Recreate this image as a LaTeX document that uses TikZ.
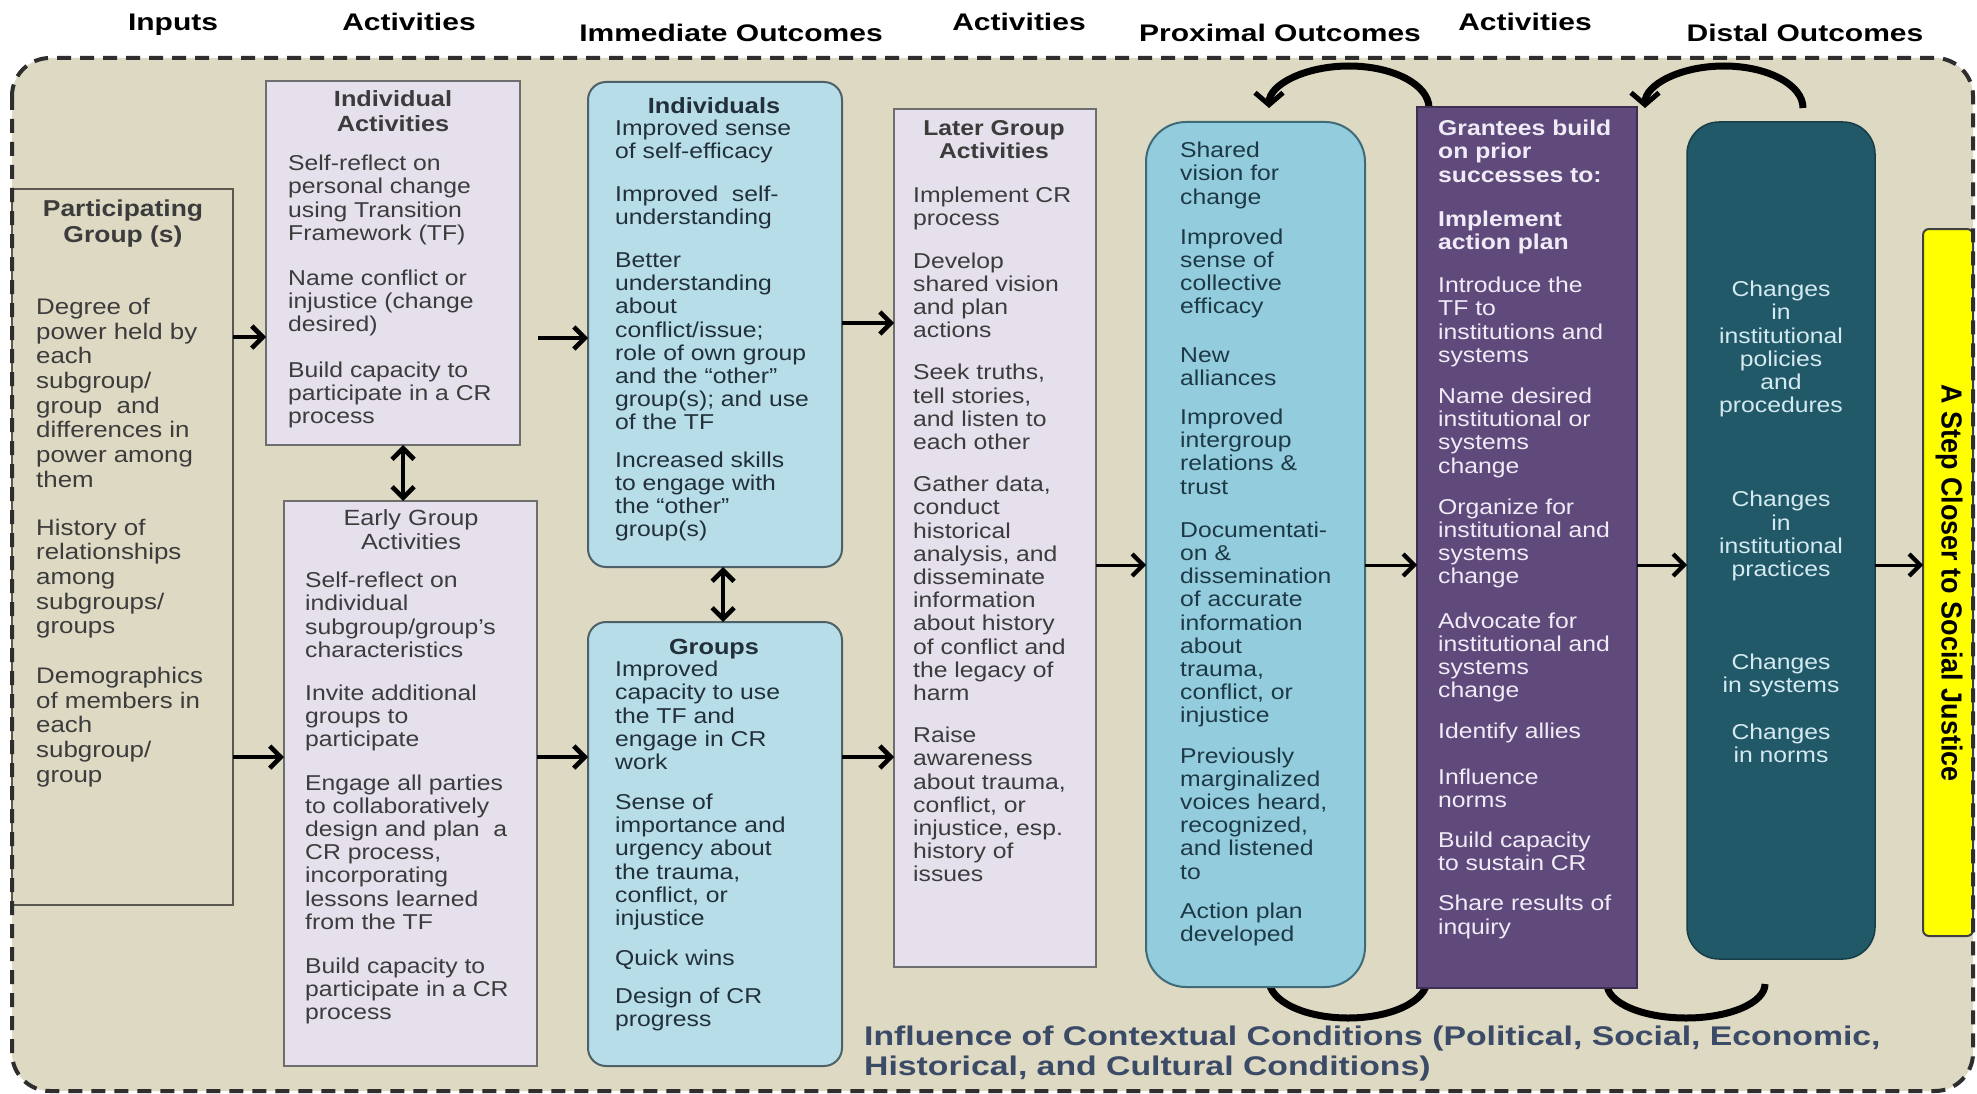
\documentclass[tikz,border=0pt]{standalone}
\usepackage{fontspec}
\setmainfont{Liberation Sans}
\newfontfamily\bodyfont[FakeStretch=1.15]{Liberation Sans}
\newfontfamily\headfont[FakeStretch=1.25]{Liberation Sans}
\newfontfamily\footfont[FakeStretch=1.25]{Liberation Sans}
\newfontfamily\yelfont[FakeStretch=0.93]{Liberation Sans}
\usetikzlibrary{arrows.meta}
\definecolor{bgtan}{HTML}{DDD9C3}
\definecolor{lavfill}{HTML}{E5E0EC}
\definecolor{lavdraw}{HTML}{6E6E6E}
\definecolor{partdraw}{HTML}{59594F}
\definecolor{indfill}{HTML}{B7DDE8}
\definecolor{inddraw}{HTML}{4F6168}
\definecolor{proxfill}{HTML}{93CDDD}
\definecolor{proxdraw}{HTML}{3F6B78}
\definecolor{purfill}{HTML}{604A7B}
\definecolor{purdraw}{HTML}{3E2F52}
\definecolor{disfill}{HTML}{215968}
\definecolor{disdraw}{HTML}{173E48}
\definecolor{yelfill}{HTML}{FFFF00}
\definecolor{yeldraw}{HTML}{404040}
\definecolor{txtgray}{HTML}{3C3C3C}
\definecolor{txtblue}{HTML}{22303A}
\definecolor{txtprox}{HTML}{1E3946}
\definecolor{purtext}{HTML}{F0ECF7}
\definecolor{distext}{HTML}{D5EAF0}
\definecolor{foottext}{HTML}{3B4A66}
\definecolor{framecol}{HTML}{2E2E2E}
\tikzset{
  boxbase/.style={anchor=north west, inner sep=0pt, outer sep=0pt},
  partbox/.style={boxbase, fill=bgtan, draw=partdraw, line width=2pt},
  lavbox/.style={boxbase, fill=lavfill, draw=lavdraw, line width=2pt},
  indbox/.style={boxbase, fill=indfill, draw=inddraw, line width=2pt, rounded corners=18pt},
  proxbox/.style={boxbase, fill=proxfill, draw=proxdraw, line width=2pt, rounded corners=40pt},
  purbox/.style={boxbase, fill=purfill, draw=purdraw, line width=1.5pt},
  disbox/.style={boxbase, fill=disfill, draw=disdraw, line width=1.5pt, rounded corners=32pt},
  yelbox/.style={boxbase, fill=yelfill, draw=yeldraw, line width=2pt, rounded corners=6pt},
  body/.style={anchor=north west, inner sep=0pt, align=left, execute at begin node=\strut,
    font=\bodyfont\fontsize{21.5}{23.2}\selectfont},
  ttl/.style={anchor=north, inner sep=0pt, align=center, execute at begin node=\strut,
    font=\bodyfont\bfseries\fontsize{22}{25}\selectfont},
  hdr/.style={anchor=base, inner sep=0pt, font=\headfont\bfseries\fontsize{24}{28}\selectfont},
  thk/.style={line width=4.6pt, -{Straight Barb[length=11pt,width=22pt]}},
  thn/.style={line width=3pt, -{Straight Barb[length=11pt,width=22pt,line width=4.2pt]}},
  dbl/.style={line width=4.6pt, {Straight Barb[length=11pt,width=22pt]}-{Straight Barb[length=11pt,width=22pt]}},
  loopline/.style={line width=7pt},
  looparrow/.style={line width=7pt, -{Straight Barb[length=12pt,width=28pt,line width=5pt]}}
}
\begin{document}
\begin{tikzpicture}[x=1pt,y=-1pt]
\useasboundingbox (0,0) rectangle (1977,1094);
\fill[white] (0,0) rectangle (1977,1094);
% background of the frame
\fill[bgtan, rounded corners=38pt] (12,58) rectangle (1973,1091);

% header labels
\node[hdr] (h1) at (173,31) {Inputs};
\node[hdr] (h2) at (409,31) {Activities};
\node[hdr] (h3) at (731,42) {Immediate Outcomes};
\node[hdr] (h4) at (1019,31) {Activities};
\node[hdr] (h5) at (1280,42) {Proximal Outcomes};
\node[hdr] (h6) at (1525,31) {Activities};
\node[hdr] (h7) at (1805,42) {Distal Outcomes};

% feedback loops (under the boxes)
\coordinate (l1s) at (1429,108);
\coordinate (l2s) at (1803,108);
\coordinate (b1s) at (1269,980);
\coordinate (b2s) at (1607,984);
\draw[looparrow] (l1s) arc[start angle=0, end angle=-180, x radius=80, y radius=42];
\draw[looparrow] (l2s) arc[start angle=0, end angle=-180, x radius=79, y radius=42];
\draw[loopline] (b1s) arc[start angle=180, end angle=0, x radius=79, y radius=38];
\draw[loopline] (b2s) arc[start angle=180, end angle=0, x radius=79, y radius=34];

% boxes
\node[partbox, minimum width=221pt, minimum height=716pt] (part) at (12,189) {};
\node[lavbox, minimum width=254pt, minimum height=364pt] (ia) at (266,81) {};
\node[lavbox, minimum width=253pt, minimum height=565pt] (eg) at (284,501) {};
\node[indbox, minimum width=254pt, minimum height=485pt] (ind) at (588,82) {};
\node[indbox, minimum width=254pt, minimum height=444pt] (grp) at (588,622) {};
\node[lavbox, minimum width=202pt, minimum height=858pt] (lat) at (894,109) {};
\node[proxbox, minimum width=219pt, minimum height=865pt] (prox) at (1146,122) {};
\node[purbox, minimum width=220pt, minimum height=881pt] (pur) at (1417,107) {};
\node[disbox, minimum width=188pt, minimum height=837pt] (dis) at (1687,122) {};
\node[yelbox, minimum width=50pt, minimum height=707pt] (yel) at (1923,229) {};

% texts
\node[ttl, text=txtgray, font=\bodyfont\bfseries\fontsize{23}{25.5}\selectfont] (partt) at (123,200) {Participating\\Group (s)};
\node[body, text=txtgray, font=\bodyfont\fontsize{22.5}{24.7}\selectfont] (partb) at (36,298) {Degree of\\power held by\\each\\subgroup/\\group\ \ and\\differences in\\power among\\them\\[23pt]History of\\relationships\\among\\subgroups/\\groups\\[25pt]Demographics\\of members in\\each\\subgroup/\\group};

\node[ttl, text=txtgray] (iat) at (393,90) {Individual\\Activities};
\node[body, text=txtgray] (iab) at (288,155) {Self-reflect on\\personal change\\using Transition\\Framework (TF)\\[22pt]Name conflict or\\injustice (change\\desired)\\[22pt]Build capacity to\\participate in a CR\\process};

\node[ttl, text=txtgray, font=\bodyfont\fontsize{22}{24}\selectfont] (egt) at (411,509) {Early Group\\Activities};
\node[body, text=txtgray] (egb) at (305,572) {Self-reflect on\\individual\\subgroup/group’s\\characteristics\\[20pt]Invite additional\\groups to\\participate\\[20pt]Engage all parties\\to collaboratively\\design and plan\ \ a\\CR process,\\incorporating\\lessons learned\\from the TF\\[21pt]Build capacity to\\participate in a CR\\process};

\node[ttl, text=txtblue] (indt) at (714,96) {Individuals};
\node[body, text=txtblue] (indb) at (615,120) {Improved sense\\of self-efficacy\\[19.5pt]Improved\ \ self-\\understanding\\[19.5pt]Better\\understanding\\about\\conflict/issue;\\role of own group\\and the “other”\\group(s); and use\\of the TF\\[14pt]Increased skills\\to engage with\\the “other”\\group(s)};

\node[ttl, text=txtblue] (grpt) at (714,637) {Groups};
\node[body, text=txtblue] (grpb) at (615,661) {Improved\\capacity to use\\the TF and\\engage in CR\\work\\[16.7pt]Sense of\\importance and\\urgency about\\the trauma,\\conflict, or\\injustice\\[16.7pt]Quick wins\\[14.7pt]Design of CR\\progress};

\node[ttl, text=txtgray, font=\bodyfont\bfseries\fontsize{21.5}{23}\selectfont] (latt) at (994,120) {Later Group\\Activities};
\node[body, text=txtgray] (latb) at (913,187) {Implement CR\\process\\[19pt]Develop\\shared vision\\and plan\\actions\\[19pt]Seek truths,\\tell stories,\\and listen to\\each other\\[19pt]Gather data,\\conduct\\historical\\analysis, and\\disseminate\\information\\about history\\of conflict and\\the legacy of\\harm\\[19pt]Raise\\awareness\\about trauma,\\conflict, or\\injustice, esp.\\history of\\issues};

\node[body, text=txtprox] (proxb) at (1180,142) {Shared\\vision for\\change\\[17pt]Improved\\sense of\\collective\\efficacy\\[25pt]New\\alliances\\[16pt]Improved\\intergroup\\relations \&\\trust\\[20pt]Documentati-\\on \&\\dissemination\\of accurate\\information\\about\\trauma,\\conflict, or\\injustice\\[17pt]Previously\\marginalized\\voices heard,\\recognized,\\and listened\\to\\[16pt]Action plan\\developed};

\node[body, text=purtext] (purb) at (1438,120) {\textbf{Grantees build}\\\textbf{on prior}\\\textbf{successes to:}\\[21pt]\textbf{Implement}\\\textbf{action plan}\\[20pt]Introduce the\\TF to\\institutions and\\systems\\[18pt]Name desired\\institutional or\\systems\\change\\[18pt]Organize for\\institutional and\\systems\\change\\[21pt]Advocate for\\institutional and\\systems\\change\\[18pt]Identify allies\\[22pt]Influence\\norms\\[17pt]Build capacity\\to sustain CR\\[17pt]Share results of\\inquiry};

\node[body, anchor=north, align=center, text=distext] (disb) at (1781,281) {Changes\\in\\institutional\\policies\\and\\procedures\\[71pt]Changes\\in\\institutional\\practices\\[70pt]Changes\\in systems\\[23pt]Changes\\in norms};

\node[rotate=-90, inner sep=0pt, font=\yelfont\bfseries\fontsize{29}{32}\selectfont] (yelt) at (1949,583) {A Step Closer to Social Justice};

\node[anchor=north west, inner sep=0pt, align=left, execute at begin node=\strut, text=foottext,
  font=\footfont\bfseries\fontsize{27}{30}\selectfont] (foot) at (864,1026)
  {Influence of Contextual Conditions (Political, Social, Economic,\\Historical, and Cultural Conditions)};

% connectors
\draw[thk] (part.east |- 0,337) -- (ia.west |- 0,337);
\draw[thk] (part.east |- 0,757) -- (eg.west |- 0,757);
\draw[thk, shorten <=18pt] (ia.east |- 0,338) -- (ind.west |- 0,338);
\draw[thk] (eg.east |- 0,757) -- (grp.west |- 0,757);
\draw[thk] (ind.east |- 0,323) -- (lat.west |- 0,323);
\draw[thk] (grp.east |- 0,757) -- (lat.west |- 0,757);
\draw[dbl] (ia.south -| 403,0) -- (eg.north -| 403,0);
\draw[dbl] (ind.south -| 723,0) -- (grp.north -| 723,0);
\draw[thn] (lat.east |- 0,565) -- (prox.west |- 0,565);
\draw[thn] (prox.east |- 0,565) -- (pur.west |- 0,565);
\draw[thn] (pur.east |- 0,565) -- (dis.west |- 0,565);
\draw[thn] (dis.east |- 0,565) -- (yel.west |- 0,565);

% dashed frame
\draw[framecol, line width=4pt, dash pattern=on 14pt off 9pt, rounded corners=38pt] (12,58) rectangle (1973,1091);
\end{tikzpicture}
\end{document}
